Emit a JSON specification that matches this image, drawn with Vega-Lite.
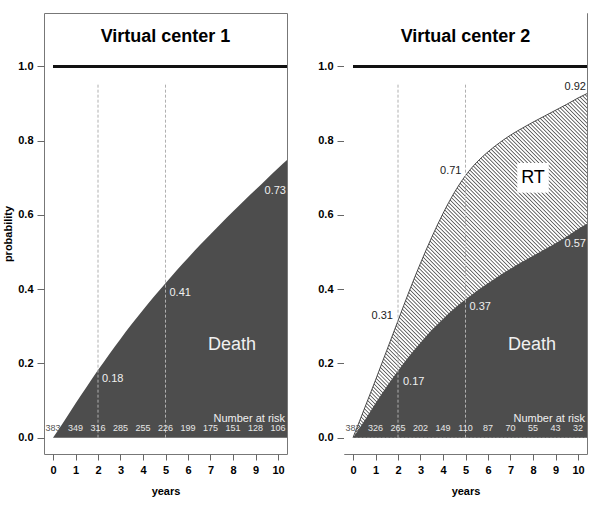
{
  "$schema": "https://vega.github.io/schema/vega-lite/v6.json",
  "padding": {"left": 2, "top": 12, "right": 0, "bottom": 0},
  "spacing": 28,
  "data": {"values": [{}]},
  "config": {
    "font": "Liberation Sans",
    "view": {"stroke": "#777", "strokeWidth": 1},
    "axis": {"grid": false, "domain": false, "ticks": true, "tickColor": "#666", "labelColor": "#000", "labelFont": "Liberation Sans", "labelFontWeight": "bold", "labelFontSize": 11, "labelOverlap": false, "titleFont": "Liberation Sans", "titleFontWeight": "bold", "titleFontSize": 11, "titleColor": "#000"},
    "axisX": {"tickSize": 6, "labelPadding": 4, "titlePadding": 10},
    "axisY": {"tickSize": 7, "labelPadding": 4, "titlePadding": 4}
  },
  "datasets": {
    "c1": [
      {"t": 0, "death": 0}, {"t": 0.5, "death": 0.045}, {"t": 1, "death": 0.092}, {"t": 1.5, "death": 0.137},
      {"t": 2, "death": 0.182}, {"t": 2.5, "death": 0.225}, {"t": 3, "death": 0.266}, {"t": 3.5, "death": 0.306},
      {"t": 4, "death": 0.344}, {"t": 4.5, "death": 0.381}, {"t": 5, "death": 0.416}, {"t": 5.5, "death": 0.451},
      {"t": 6, "death": 0.484}, {"t": 6.5, "death": 0.517}, {"t": 7, "death": 0.548}, {"t": 7.5, "death": 0.579},
      {"t": 8, "death": 0.609}, {"t": 8.5, "death": 0.639}, {"t": 9, "death": 0.668}, {"t": 9.5, "death": 0.697},
      {"t": 10, "death": 0.726}, {"t": 10.4, "death": 0.748}
    ],
    "c2": [
      {"t": 0, "death": 0, "rt": 0}, {"t": 0.5, "death": 0.045, "rt": 0.077}, {"t": 1, "death": 0.093, "rt": 0.155},
      {"t": 1.5, "death": 0.138, "rt": 0.235}, {"t": 2, "death": 0.18, "rt": 0.315}, {"t": 2.5, "death": 0.22, "rt": 0.395},
      {"t": 3, "death": 0.256, "rt": 0.47}, {"t": 3.5, "death": 0.29, "rt": 0.54}, {"t": 4, "death": 0.32, "rt": 0.604},
      {"t": 4.5, "death": 0.348, "rt": 0.66}, {"t": 5, "death": 0.372, "rt": 0.706}, {"t": 5.5, "death": 0.395, "rt": 0.742},
      {"t": 6, "death": 0.416, "rt": 0.77}, {"t": 6.5, "death": 0.436, "rt": 0.794}, {"t": 7, "death": 0.455, "rt": 0.815},
      {"t": 7.5, "death": 0.473, "rt": 0.833}, {"t": 8, "death": 0.49, "rt": 0.85}, {"t": 8.5, "death": 0.507, "rt": 0.866},
      {"t": 9, "death": 0.524, "rt": 0.882}, {"t": 9.5, "death": 0.542, "rt": 0.898}, {"t": 10, "death": 0.562, "rt": 0.915},
      {"t": 10.4, "death": 0.576, "rt": 0.927}
    ],
    "risk1": [
      {"t": 0, "n": 383}, {"t": 1, "n": 349}, {"t": 2, "n": 316}, {"t": 3, "n": 285}, {"t": 4, "n": 255}, {"t": 5, "n": 226},
      {"t": 6, "n": 199}, {"t": 7, "n": 175}, {"t": 8, "n": 151}, {"t": 9, "n": 128}, {"t": 10, "n": 106}
    ],
    "risk2": [
      {"t": 0, "n": 383}, {"t": 1, "n": 326}, {"t": 2, "n": 265}, {"t": 3, "n": 202}, {"t": 4, "n": 149}, {"t": 5, "n": 110},
      {"t": 6, "n": 87}, {"t": 7, "n": 70}, {"t": 8, "n": 55}, {"t": 9, "n": 43}, {"t": 10, "n": 32}
    ]
  },
  "hconcat": [
    {
      "width": 243,
      "height": 441,
      "layer": [
        {
          "data": {"name": "c1"},
          "mark": {"type": "area", "color": "#4d4d4d", "interpolate": "monotone", "clip": true},
          "encoding": {
            "x": {"field": "t", "type": "quantitative", "scale": {"domain": [-0.4, 10.4], "nice": false, "zero": false},
                  "axis": {"values": [0,1,2,3,4,5,6,7,8,9,10], "title": "years", "format": "d"}},
            "y": {"field": "death", "type": "quantitative", "scale": {"domain": [-0.044, 1.144], "nice": false, "zero": false},
                  "axis": {"values": [0, 0.2, 0.4, 0.6, 0.8, 1.0], "format": ".1f", "title": "probability", "ticks": true, "tickSize": 7, "tickColor": "#666", "tickWidth": 1}},
            "y2": {"datum": 0}
          }
        },
        {
          "mark": {"type": "rule", "color": "#b0b0b0", "strokeDash": [3, 2], "strokeWidth": 1},
          "encoding": {
            "x": {"datum": 2, "axis": {"values": [0,1,2,3,4,5,6,7,8,9,10], "title": "years", "format": "d"}},
            "y": {"datum": 0, "axis": {"values": [0, 0.2, 0.4, 0.6, 0.8, 1.0], "format": ".1f", "title": "probability", "ticks": true, "tickSize": 7, "tickColor": "#666", "tickWidth": 1}},
            "y2": {"datum": 0.955}}
        },
        {
          "mark": {"type": "rule", "color": "#b0b0b0", "strokeDash": [3, 2], "strokeWidth": 1},
          "encoding": {
            "x": {"datum": 5, "axis": {"values": [0,1,2,3,4,5,6,7,8,9,10], "title": "years", "format": "d"}},
            "y": {"datum": 0, "axis": {"values": [0, 0.2, 0.4, 0.6, 0.8, 1.0], "format": ".1f", "title": "probability", "ticks": true, "tickSize": 7, "tickColor": "#666", "tickWidth": 1}},
            "y2": {"datum": 0.955}}
        },
        {
          "mark": {"type": "rule", "color": "#111", "strokeWidth": 3, "strokeCap": "butt"},
          "encoding": {
            "x": {"datum": 0, "axis": {"values": [0,1,2,3,4,5,6,7,8,9,10], "title": "years", "format": "d"}},
            "x2": {"datum": 10.4},
            "y": {"datum": 1, "axis": {"values": [0, 0.2, 0.4, 0.6, 0.8, 1.0], "format": ".1f", "title": "probability", "ticks": true, "tickSize": 7, "tickColor": "#666", "tickWidth": 1}}}
        },
        {
          "data": {"name": "risk1"},
          "mark": {"type": "text", "fontSize": 9, "baseline": "middle", "align": "center"},
          "encoding": {
            "x": {"field": "t", "type": "quantitative", "axis": {"values": [0,1,2,3,4,5,6,7,8,9,10], "title": "years", "format": "d"}},
            "y": {"datum": 0.027, "axis": {"values": [0, 0.2, 0.4, 0.6, 0.8, 1.0], "format": ".1f", "title": "probability", "ticks": true, "tickSize": 7, "tickColor": "#666", "tickWidth": 1}},
            "text": {"field": "n", "type": "quantitative"},
            "color": {"condition": {"test": "datum.t == 0", "value": "#555"}, "value": "#e8e8e8"}
          }
        },
        {
          "mark": {"type": "text", "fontSize": 11, "align": "right", "baseline": "middle", "color": "#f0f0f0", "dx": -2},
          "encoding": {
            "x": {"datum": 10.4, "axis": {"values": [0,1,2,3,4,5,6,7,8,9,10], "title": "years", "format": "d"}},
            "y": {"datum": 0.051, "axis": {"values": [0, 0.2, 0.4, 0.6, 0.8, 1.0], "format": ".1f", "title": "probability", "ticks": true, "tickSize": 7, "tickColor": "#666", "tickWidth": 1}},
            "text": {"value": "Number at risk"}}
        },
        {
          "mark": {"type": "text", "fontSize": 18, "align": "center", "baseline": "middle", "color": "#f0f0f0"},
          "encoding": {
            "x": {"datum": 7.96, "axis": {"values": [0,1,2,3,4,5,6,7,8,9,10], "title": "years", "format": "d"}},
            "y": {"datum": 0.25, "axis": {"values": [0, 0.2, 0.4, 0.6, 0.8, 1.0], "format": ".1f", "title": "probability", "ticks": true, "tickSize": 7, "tickColor": "#666", "tickWidth": 1}},
            "text": {"value": "Death"}}
        },
        {
          "mark": {"type": "text", "fontSize": 11, "align": "left", "baseline": "middle", "color": "#f0f0f0", "dx": 4},
          "encoding": {
            "x": {"datum": 2, "axis": {"values": [0,1,2,3,4,5,6,7,8,9,10], "title": "years", "format": "d"}},
            "y": {"datum": 0.158, "axis": {"values": [0, 0.2, 0.4, 0.6, 0.8, 1.0], "format": ".1f", "title": "probability", "ticks": true, "tickSize": 7, "tickColor": "#666", "tickWidth": 1}},
            "text": {"value": "0.18"}}
        },
        {
          "mark": {"type": "text", "fontSize": 11, "align": "left", "baseline": "middle", "color": "#f0f0f0", "dx": 4},
          "encoding": {
            "x": {"datum": 5, "axis": {"values": [0,1,2,3,4,5,6,7,8,9,10], "title": "years", "format": "d"}},
            "y": {"datum": 0.389, "axis": {"values": [0, 0.2, 0.4, 0.6, 0.8, 1.0], "format": ".1f", "title": "probability", "ticks": true, "tickSize": 7, "tickColor": "#666", "tickWidth": 1}},
            "text": {"value": "0.41"}}
        },
        {
          "mark": {"type": "text", "fontSize": 11, "align": "right", "baseline": "middle", "color": "#f0f0f0", "dx": -1},
          "encoding": {
            "x": {"datum": 10.4, "axis": {"values": [0,1,2,3,4,5,6,7,8,9,10], "title": "years", "format": "d"}},
            "y": {"datum": 0.665, "axis": {"values": [0, 0.2, 0.4, 0.6, 0.8, 1.0], "format": ".1f", "title": "probability", "ticks": true, "tickSize": 7, "tickColor": "#666", "tickWidth": 1}},
            "text": {"value": "0.73"}}
        },
        {
          "mark": {"type": "text", "fontSize": 18, "fontWeight": "bold", "align": "center", "baseline": "middle", "color": "#000"},
          "encoding": {
            "x": {"datum": 5, "axis": {"values": [0,1,2,3,4,5,6,7,8,9,10], "title": "years", "format": "d"}},
            "y": {"datum": 1.08, "axis": {"values": [0, 0.2, 0.4, 0.6, 0.8, 1.0], "format": ".1f", "title": "probability", "ticks": true, "tickSize": 7, "tickColor": "#666", "tickWidth": 1}},
            "text": {"value": "Virtual center 1"}}
        }
      ]
    },
    {
      "width": 243,
      "height": 441,
      "layer": [
        {
          "mark": {"type": "rule", "color": "#333", "strokeWidth": 700, "strokeDash": [0.7, 2.0], "strokeCap": "butt", "clip": true},
          "encoding": {
            "x": {"datum": -1.5, "type": "quantitative", "scale": {"domain": [-0.4, 10.4], "nice": false, "zero": false},
                  "axis": {"values": [0,1,2,3,4,5,6,7,8,9,10], "title": "years", "format": "d"}},
            "y": {"datum": -0.1, "type": "quantitative", "scale": {"domain": [-0.044, 1.144], "nice": false, "zero": false},
                  "axis": {"values": [0, 0.2, 0.4, 0.6, 0.8, 1.0], "format": ".1f", "title": null}},
            "x2": {"datum": 16.28},
            "y2": {"datum": 0.972}
          }
        },
        {
          "data": {"name": "c2"},
          "mark": {"type": "area", "color": "#ffffff", "interpolate": "monotone", "clip": true},
          "encoding": {
            "x": {"field": "t", "type": "quantitative", "axis": {"values": [0,1,2,3,4,5,6,7,8,9,10], "title": "years", "format": "d"}},
            "y": {"field": "rt", "type": "quantitative", "axis": {"values": [0, 0.2, 0.4, 0.6, 0.8, 1.0], "format": ".1f", "title": null}},
            "y2": {"datum": 1.3}
          }
        },
        {
          "mark": {"type": "rect", "color": "#ffffff", "clip": true},
          "encoding": {
            "x": {"datum": -1, "axis": {"values": [0,1,2,3,4,5,6,7,8,9,10], "title": "years", "format": "d"}},
            "x2": {"datum": 0},
            "y": {"datum": -0.2, "axis": {"values": [0, 0.2, 0.4, 0.6, 0.8, 1.0], "format": ".1f", "title": null}},
            "y2": {"datum": 1.3}}
        },
        {
          "mark": {"type": "rect", "color": "#ffffff", "clip": true},
          "encoding": {
            "x": {"datum": -1, "axis": {"values": [0,1,2,3,4,5,6,7,8,9,10], "title": "years", "format": "d"}},
            "x2": {"datum": 11},
            "y": {"datum": -0.2, "axis": {"values": [0, 0.2, 0.4, 0.6, 0.8, 1.0], "format": ".1f", "title": null}},
            "y2": {"datum": 0}}
        },
        {
          "data": {"name": "c2"},
          "mark": {"type": "line", "color": "#222", "strokeWidth": 0.8, "interpolate": "monotone", "clip": true},
          "encoding": {
            "x": {"field": "t", "type": "quantitative", "axis": {"values": [0,1,2,3,4,5,6,7,8,9,10], "title": "years", "format": "d"}},
            "y": {"field": "rt", "type": "quantitative", "axis": {"values": [0, 0.2, 0.4, 0.6, 0.8, 1.0], "format": ".1f", "title": null}}
          }
        },
        {
          "data": {"name": "c2"},
          "mark": {"type": "area", "color": "#4d4d4d", "interpolate": "monotone", "clip": true},
          "encoding": {
            "x": {"field": "t", "type": "quantitative", "axis": {"values": [0,1,2,3,4,5,6,7,8,9,10], "title": "years", "format": "d"}},
            "y": {"field": "death", "type": "quantitative", "axis": {"values": [0, 0.2, 0.4, 0.6, 0.8, 1.0], "format": ".1f", "title": null}},
            "y2": {"datum": 0}
          }
        },
        {
          "mark": {"type": "rect", "color": "#ffffff"},
          "encoding": {
            "x": {"datum": 7.3, "axis": {"values": [0,1,2,3,4,5,6,7,8,9,10], "title": "years", "format": "d"}},
            "x2": {"datum": 8.7},
            "y": {"datum": 0.66, "axis": {"values": [0, 0.2, 0.4, 0.6, 0.8, 1.0], "format": ".1f", "title": null}},
            "y2": {"datum": 0.74}}
        },
        {
          "mark": {"type": "text", "fontSize": 18, "align": "center", "baseline": "middle", "color": "#000"},
          "encoding": {
            "x": {"datum": 8, "axis": {"values": [0,1,2,3,4,5,6,7,8,9,10], "title": "years", "format": "d"}},
            "y": {"datum": 0.70, "axis": {"values": [0, 0.2, 0.4, 0.6, 0.8, 1.0], "format": ".1f", "title": null}},
            "text": {"value": "RT"}}
        },
        {
          "mark": {"type": "rule", "color": "#b0b0b0", "strokeDash": [3, 2], "strokeWidth": 1},
          "encoding": {
            "x": {"datum": 2, "axis": {"values": [0,1,2,3,4,5,6,7,8,9,10], "title": "years", "format": "d"}},
            "y": {"datum": 0, "axis": {"values": [0, 0.2, 0.4, 0.6, 0.8, 1.0], "format": ".1f", "title": null}},
            "y2": {"datum": 0.955}}
        },
        {
          "mark": {"type": "rule", "color": "#b0b0b0", "strokeDash": [3, 2], "strokeWidth": 1},
          "encoding": {
            "x": {"datum": 5, "axis": {"values": [0,1,2,3,4,5,6,7,8,9,10], "title": "years", "format": "d"}},
            "y": {"datum": 0, "axis": {"values": [0, 0.2, 0.4, 0.6, 0.8, 1.0], "format": ".1f", "title": null}},
            "y2": {"datum": 0.955}}
        },
        {
          "mark": {"type": "rule", "color": "#111", "strokeWidth": 3, "strokeCap": "butt"},
          "encoding": {
            "x": {"datum": 0, "axis": {"values": [0,1,2,3,4,5,6,7,8,9,10], "title": "years", "format": "d"}},
            "x2": {"datum": 10.4},
            "y": {"datum": 1, "axis": {"values": [0, 0.2, 0.4, 0.6, 0.8, 1.0], "format": ".1f", "title": null}}}
        },
        {
          "data": {"name": "risk2"},
          "mark": {"type": "text", "fontSize": 9, "baseline": "middle", "align": "center"},
          "encoding": {
            "x": {"field": "t", "type": "quantitative", "axis": {"values": [0,1,2,3,4,5,6,7,8,9,10], "title": "years", "format": "d"}},
            "y": {"datum": 0.027, "axis": {"values": [0, 0.2, 0.4, 0.6, 0.8, 1.0], "format": ".1f", "title": null}},
            "text": {"field": "n", "type": "quantitative"},
            "color": {"condition": {"test": "datum.t == 0", "value": "#555"}, "value": "#e8e8e8"}
          }
        },
        {
          "mark": {"type": "text", "fontSize": 11, "align": "right", "baseline": "middle", "color": "#f0f0f0", "dx": -2},
          "encoding": {
            "x": {"datum": 10.4, "axis": {"values": [0,1,2,3,4,5,6,7,8,9,10], "title": "years", "format": "d"}},
            "y": {"datum": 0.051, "axis": {"values": [0, 0.2, 0.4, 0.6, 0.8, 1.0], "format": ".1f", "title": null}},
            "text": {"value": "Number at risk"}}
        },
        {
          "mark": {"type": "text", "fontSize": 18, "align": "center", "baseline": "middle", "color": "#f0f0f0"},
          "encoding": {
            "x": {"datum": 7.96, "axis": {"values": [0,1,2,3,4,5,6,7,8,9,10], "title": "years", "format": "d"}},
            "y": {"datum": 0.25, "axis": {"values": [0, 0.2, 0.4, 0.6, 0.8, 1.0], "format": ".1f", "title": null}},
            "text": {"value": "Death"}}
        },
        {
          "mark": {"type": "text", "fontSize": 11, "align": "left", "baseline": "middle", "color": "#f0f0f0", "dx": 5},
          "encoding": {
            "x": {"datum": 2, "axis": {"values": [0,1,2,3,4,5,6,7,8,9,10], "title": "years", "format": "d"}},
            "y": {"datum": 0.15, "axis": {"values": [0, 0.2, 0.4, 0.6, 0.8, 1.0], "format": ".1f", "title": null}},
            "text": {"value": "0.17"}}
        },
        {
          "mark": {"type": "text", "fontSize": 11, "align": "left", "baseline": "middle", "color": "#f0f0f0", "dx": 4},
          "encoding": {
            "x": {"datum": 5, "axis": {"values": [0,1,2,3,4,5,6,7,8,9,10], "title": "years", "format": "d"}},
            "y": {"datum": 0.351, "axis": {"values": [0, 0.2, 0.4, 0.6, 0.8, 1.0], "format": ".1f", "title": null}},
            "text": {"value": "0.37"}}
        },
        {
          "mark": {"type": "text", "fontSize": 11, "align": "right", "baseline": "middle", "color": "#f0f0f0", "dx": -1},
          "encoding": {
            "x": {"datum": 10.4, "axis": {"values": [0,1,2,3,4,5,6,7,8,9,10], "title": "years", "format": "d"}},
            "y": {"datum": 0.523, "axis": {"values": [0, 0.2, 0.4, 0.6, 0.8, 1.0], "format": ".1f", "title": null}},
            "text": {"value": "0.57"}}
        },
        {
          "mark": {"type": "text", "fontSize": 11, "align": "right", "baseline": "middle", "color": "#222", "dx": -5},
          "encoding": {
            "x": {"datum": 2, "axis": {"values": [0,1,2,3,4,5,6,7,8,9,10], "title": "years", "format": "d"}},
            "y": {"datum": 0.327, "axis": {"values": [0, 0.2, 0.4, 0.6, 0.8, 1.0], "format": ".1f", "title": null}},
            "text": {"value": "0.31"}}
        },
        {
          "mark": {"type": "text", "fontSize": 11, "align": "right", "baseline": "middle", "color": "#222", "dx": -4},
          "encoding": {
            "x": {"datum": 5, "axis": {"values": [0,1,2,3,4,5,6,7,8,9,10], "title": "years", "format": "d"}},
            "y": {"datum": 0.718, "axis": {"values": [0, 0.2, 0.4, 0.6, 0.8, 1.0], "format": ".1f", "title": null}},
            "text": {"value": "0.71"}}
        },
        {
          "mark": {"type": "text", "fontSize": 11, "align": "right", "baseline": "middle", "color": "#222", "dx": -1},
          "encoding": {
            "x": {"datum": 10.4, "axis": {"values": [0,1,2,3,4,5,6,7,8,9,10], "title": "years", "format": "d"}},
            "y": {"datum": 0.944, "axis": {"values": [0, 0.2, 0.4, 0.6, 0.8, 1.0], "format": ".1f", "title": null}},
            "text": {"value": "0.92"}}
        },
        {
          "mark": {"type": "text", "fontSize": 18, "fontWeight": "bold", "align": "center", "baseline": "middle", "color": "#000"},
          "encoding": {
            "x": {"datum": 5, "axis": {"values": [0,1,2,3,4,5,6,7,8,9,10], "title": "years", "format": "d"}},
            "y": {"datum": 1.08, "axis": {"values": [0, 0.2, 0.4, 0.6, 0.8, 1.0], "format": ".1f", "title": null}},
            "text": {"value": "Virtual center 2"}}
        }
      ]
    }
  ]
}
